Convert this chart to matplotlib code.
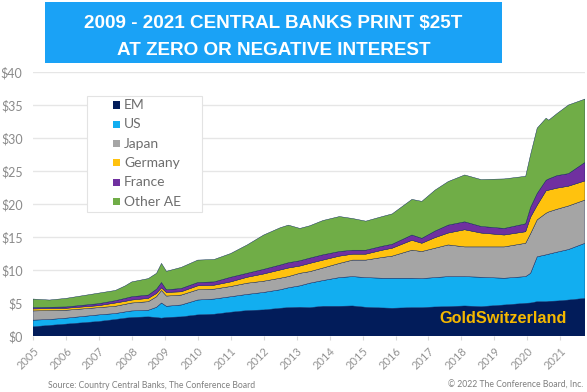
import matplotlib
matplotlib.use("Agg")
import matplotlib.pyplot as plt
from matplotlib.patches import Rectangle

# ---------------- data (trillions USD) ----------------
years = [2005.00, 2005.50, 2006.00, 2006.50, 2007.00, 2007.50, 2007.80, 2008.00,
         2008.50, 2008.75, 2008.90, 2009.05, 2009.50, 2010.00, 2010.50, 2011.00,
         2011.50, 2012.00, 2012.50, 2012.75, 2013.10, 2013.40, 2013.80, 2014.30,
         2014.70, 2015.10, 2015.60, 2015.90, 2016.50, 2016.80, 2017.20, 2017.60,
         2018.10, 2018.60, 2019.30, 2019.95, 2020.10, 2020.30, 2020.57, 2020.65,
         2020.90, 2021.25, 2021.75]

em = [1.40, 1.60, 1.80, 2.00, 2.20, 2.50, 2.70, 2.80, 2.90, 2.80, 2.70, 2.80, 2.90,
      3.20, 3.30, 3.60, 3.85, 3.95, 4.20, 4.30, 4.35, 4.30, 4.50, 4.50, 4.55, 4.35,
      4.25, 4.20, 4.30, 4.30, 4.40, 4.45, 4.55, 4.45, 4.70, 4.95, 5.00, 5.20, 5.20,
      5.25, 5.30, 5.45, 5.70]
us = [1.00, 0.90, 0.90, 0.95, 1.00, 0.90, 0.95, 1.00, 1.00, 1.55, 2.30, 1.70, 1.80,
      2.25, 2.30, 2.35, 2.45, 2.65, 2.80, 3.00, 3.25, 3.70, 3.90, 4.35, 4.45, 4.50,
      4.50, 4.55, 4.45, 4.40, 4.45, 4.55, 4.45, 4.45, 4.05, 4.05, 4.50, 6.80, 7.10,
      7.15, 7.40, 7.65, 8.35]
japan = [1.40, 1.35, 1.20, 1.15, 1.10, 1.10, 1.15, 1.20, 1.30, 1.60, 1.90, 1.55, 1.50,
         1.55, 1.50, 1.55, 1.70, 1.70, 1.75, 1.70, 1.90, 1.75, 1.90, 2.15, 2.50, 2.65,
         3.15, 3.35, 4.25, 4.10, 4.45, 4.80, 4.50, 4.60, 4.75, 5.05, 6.00, 5.60, 6.30,
         6.40, 6.50, 6.60, 6.55]
germany = [0.30, 0.30, 0.30, 0.30, 0.30, 0.50, 0.45, 0.45, 0.50, 0.50, 0.40, 0.55, 0.50,
           0.60, 0.60, 0.70, 0.90, 1.10, 1.25, 1.30, 1.10, 1.25, 1.20, 1.10, 0.90, 0.90,
           1.10, 1.20, 1.50, 1.25, 1.60, 1.80, 2.60, 2.10, 1.80, 1.75, 2.50, 2.20, 3.40,
           3.30, 3.20, 3.00, 2.90]
france = [0.20, 0.20, 0.20, 0.25, 0.30, 0.35, 0.45, 0.50, 0.50, 0.65, 0.80, 0.40, 0.50,
          0.50, 0.50, 0.70, 0.60, 0.70, 0.75, 0.80, 0.80, 0.80, 0.80, 0.70, 0.60, 0.60,
          0.60, 0.60, 0.80, 0.75, 1.00, 1.20, 1.20, 1.00, 1.00, 1.20, 1.50, 1.80, 1.60,
          1.70, 1.90, 1.90, 2.80]
other_ae = [1.30, 1.10, 1.30, 1.45, 1.60, 1.55, 1.90, 2.25, 2.50, 2.40, 2.90, 2.80, 3.20,
            3.40, 3.40, 3.60, 4.30, 5.20, 5.65, 5.70, 4.90, 4.90, 5.20, 5.30, 4.80, 4.40,
            4.50, 4.60, 5.40, 5.60, 6.20, 6.60, 7.10, 7.10, 7.50, 7.20, 8.00, 9.90, 9.40,
            8.90, 9.40, 10.40, 9.60]

series_names = ["EM", "US", "Japan", "Germany", "France", "Other AE"]
series_colors = ["#021c5a", "#12aef0", "#a5a5a5", "#ffc20e", "#7030a0", "#70ad47"]
year_ticks = list(range(2005, 2022))
y_ticks = [0, 5, 10, 15, 20, 25, 30, 35, 40]

title_lines = ["2009 - 2021 CENTRAL BANKS PRINT $25T", "AT ZERO OR NEGATIVE INTEREST"]
source_text = "Source: Country Central Banks, The Conference Board"
copyright_text = "\u00a9 2022 The Conference Board, Inc."
brand_text = "GoldSwitzerland"

# ---------------- figure ----------------
W, H = 587, 392
fig = plt.figure(figsize=(W / 100, H / 100), dpi=100)
fig.patch.set_facecolor("white")

def fx(px):
    return px / W

def fy(py):
    return 1 - py / H

ax = fig.add_axes([fx(33), fy(336), (585 - 33) / W, (336 - 72) / H])
ax.set_facecolor("white")

ax.stackplot(years, em, us, japan, germany, france, other_ae,
             colors=series_colors, linewidth=0.3, edgecolors=series_colors, zorder=2)

ax.set_xlim(2005, 2021.75)
ax.set_ylim(0, 40)
ax.set_yticks(y_ticks)
ax.set_yticklabels([f"${v}" for v in y_ticks], family="Lato", fontsize=9, color="#8a8a8a")
ax.set_xticks(year_ticks)
ax.set_xticklabels([str(y) for y in year_ticks], family="Lato", fontsize=8, color="#939393",
                   rotation=45, ha="right", rotation_mode="anchor")
ax.tick_params(axis="y", length=0, pad=7.5)
ax.tick_params(axis="x", length=3, width=0.8, color="#d9d9d9", pad=4)
ax.grid(axis="y", color="#e6e6e6", linewidth=1.0, zorder=0)
ax.set_axisbelow(True)
for s in ax.spines.values():
    s.set_visible(False)

# brand label
ax.text(2005 + (440 - 33) / 33.0, (336 - 323) / 6.6, brand_text, family="Liberation Sans",
        fontweight="bold", fontsize=11.7, color="#f5b800", va="baseline", ha="left", zorder=5)

# ---------------- title box ----------------
fig.patches.append(Rectangle((fx(45), fy(63)), (502 - 45) / W, 61 / H,
                             transform=fig.transFigure, facecolor="#1aa2f6",
                             edgecolor="none", zorder=1))
fig.text(fx(273.5), fy(28.3), title_lines[0], family="Liberation Sans", fontweight="bold",
         fontsize=13.6, color="white", ha="center", va="baseline")
fig.text(fx(273.5), fy(55), title_lines[1], family="Liberation Sans", fontweight="bold",
         fontsize=13.6, color="white", ha="center", va="baseline")

# ---------------- legend (manual) ----------------
fig.patches.append(Rectangle((fx(87), fy(212)), 115 / W, 116 / H, transform=fig.transFigure,
                             facecolor="white", edgecolor="#e3e3e3", linewidth=0.8, zorder=3))
for i, (name, col) in enumerate(zip(series_names, series_colors)):
    yc = 105 + i * 19.3
    fig.patches.append(Rectangle((fx(113), fy(yc + 3.5)), 7 / W, 7 / H,
                                 transform=fig.transFigure, facecolor=col,
                                 edgecolor="none", zorder=4))
    fig.text(fx(124), fy(yc), name, family="Lato", fontsize=10, color="#6e6e6e",
             ha="left", va="center", zorder=5)

# ---------------- footer ----------------
fig.text(fx(48), fy(385), source_text, family="Lato", fontsize=6.2, color="#7f7f7f",
         ha="left", va="center")
fig.text(fx(583), fy(385), copyright_text, family="Lato", fontsize=6.2, color="#7f7f7f",
         ha="right", va="center")

fig.savefig("out.png", dpi=100, facecolor="white")
